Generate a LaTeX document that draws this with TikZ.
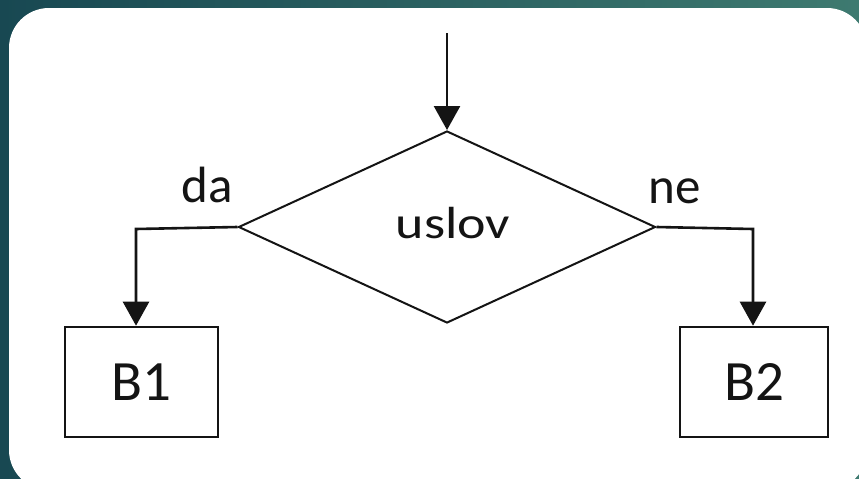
\documentclass[tikz,border=0pt]{standalone}
\usepackage{fontspec}
\setmainfont{Carlito}
\usetikzlibrary{shapes.geometric,arrows.meta}
\definecolor{bgL}{RGB}{24,72,82}
\definecolor{bgR}{RGB}{62,122,112}
\definecolor{ink}{RGB}{20,20,20}
\tikzset{
  flowline/.style={draw=ink,line width=2.6pt},
  flowarrow/.style={flowline,-{Triangle[width=26pt,length=24pt]}},
  box/.style={draw=ink,line width=2.6pt,minimum width=#1,minimum height=110pt,inner sep=0pt,
    font=\fontsize{57pt}{60pt}\selectfont,text=ink},
  cond/.style={diamond,draw=ink,line width=2pt,minimum width=417pt,minimum height=192pt,inner sep=0pt},
  lbl/.style={font=\fontsize{51pt}{54pt}\selectfont,text=ink,anchor=base,inner sep=0pt},
}
\begin{document}
\begin{tikzpicture}[x=1pt,y=-1pt]
\useasboundingbox (0,0) rectangle (859,479);
\fill[left color=bgL,right color=bgR] (0,0) rectangle (859,479);
\fill[white,rounded corners=40pt] (9,8) rectangle (867,490);
\node[cond] (c) at (447,227) {};
\node[lbl,font=\fontsize{45pt}{48pt}\selectfont] (t) at (453,238) {\scalebox{1.2}[1]{uslov}};
\node[box=153pt] (b1) at (141.5,382) {B1};
\node[box=148pt] (b2) at (754,382) {B2};
\node[lbl] (da) at (207,202) {da};
\node[lbl] (ne) at (675,203) {ne};
\coordinate (s) at (447,33);
\coordinate (lc) at (136,229);
\coordinate (rc) at (753,229);
\draw[flowarrow] (s) -- (c.north);
\draw[flowarrow] (c.west) -- (lc) -- (lc |- b1.north);
\draw[flowarrow] (c.east) -- (rc) -- (rc |- b2.north);
\end{tikzpicture}
\end{document}
